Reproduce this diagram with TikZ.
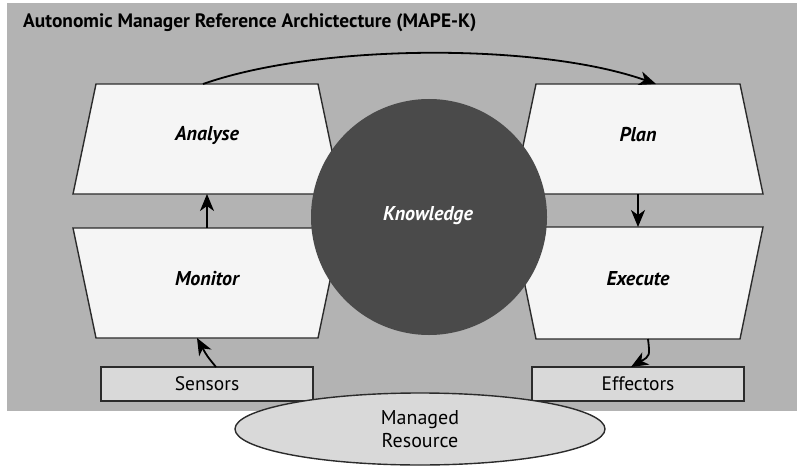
\documentclass[tikz,border=0pt]{standalone}
\usepackage{fontspec}
\setmainfont{PT Sans}
\usetikzlibrary{arrows.meta,shapes.geometric}
\definecolor{bggray}{HTML}{B3B3B3}
\definecolor{boxfill}{HTML}{F5F5F5}
\definecolor{lightfill}{HTML}{D9D9D9}
\definecolor{knowfill}{HTML}{4A4A4A}
\definecolor{edge}{HTML}{2B2B2B}
\tikzset{
  trapbox/.style={fill=boxfill, draw=edge, line width=1.4pt, line join=miter},
  labeltext/.style={font=\fontsize{20}{24}\selectfont\bfseries\itshape, text=black, inner sep=0pt},
  smallbox/.style={draw=edge, fill=lightfill, line width=1.6pt, inner sep=0pt,
     minimum width=212pt, minimum height=34pt, font=\fontsize{19.5}{23}\selectfont},
  arr/.style={draw=black, line width=1.8pt, -{Stealth[length=17pt,width=14pt,inset=5pt]}},
}
\begin{document}
\begin{tikzpicture}[x=1pt,y=-1pt]
\useasboundingbox (0,0) rectangle (797,468);
% background
\fill[bggray] (7,3) rectangle (797,411);
\node[anchor=base west, inner sep=0pt, font=\fontsize{19.4}{22}\selectfont\bfseries] (title) at (23,28) {Autonomic Manager Reference Archictecture (MAPE-K)};
% trapezoids
\path[trapbox] (96,84) -- (318,84) -- (341,194) -- (73,194) -- cycle;
\path[trapbox] (73,228) -- (341,228) -- (318,338) -- (96,338) -- cycle;
\path[trapbox] (536,84) -- (740,84) -- (763,194) -- (513,194) -- cycle;
\path[trapbox] (513,227) -- (763,227) -- (740,339) -- (536,339) -- cycle;
% knowledge
\node[circle, fill=knowfill, minimum size=236pt, inner sep=0pt] (knowledge) at (429,217) {};
\node[labeltext, text=white] (knowtext) at (428,216) {Knowledge};
% labels
\node[labeltext] (analyse) at (207,135) {Analyse};
\node[labeltext] (plan) at (638,135) {Plan};
\node[labeltext] (monitor) at (207,279) {Monitor};
\node[labeltext] (execute) at (638,279) {Execute};
% anchor coordinates on edges
\coordinate (analyseTop) at (203,84);
\coordinate (analyseBot) at (207,194);
\coordinate (planTop) at (656,84);
\coordinate (planBot) at (638,194);
\coordinate (monitorTop) at (207,228);
\coordinate (monitorBot) at (197,338);
\coordinate (executeTop) at (638,227);
\coordinate (executeBot) at (648,339);
% sensors / effectors
\node[smallbox] (sensors) at (207,384) {Sensors};
\node[smallbox] (effectors) at (638,384) {Effectors};
\coordinate (sensorsTop) at (216,367);
\coordinate (effectorsTop) at (631,367);
% managed resource
\node[ellipse, draw=edge, fill=lightfill, line width=1.4pt, minimum width=370pt, minimum height=72pt, inner sep=0pt,
      align=center, font=\fontsize{20}{23.5}\selectfont] (resource) at (420,429) {Managed\\Resource};
% arrows
\draw[arr] (analyseTop) .. controls (320,43) and (540,43) .. (planTop);
\draw[arr] (monitorTop) -- (analyseBot);
\draw[arr] (planBot) -- (executeTop);
\draw[arr] (sensorsTop) .. controls (207,356) .. (monitorBot);
\draw[arr] (executeBot) .. controls (650,356) .. (effectorsTop);
\end{tikzpicture}
\end{document}
